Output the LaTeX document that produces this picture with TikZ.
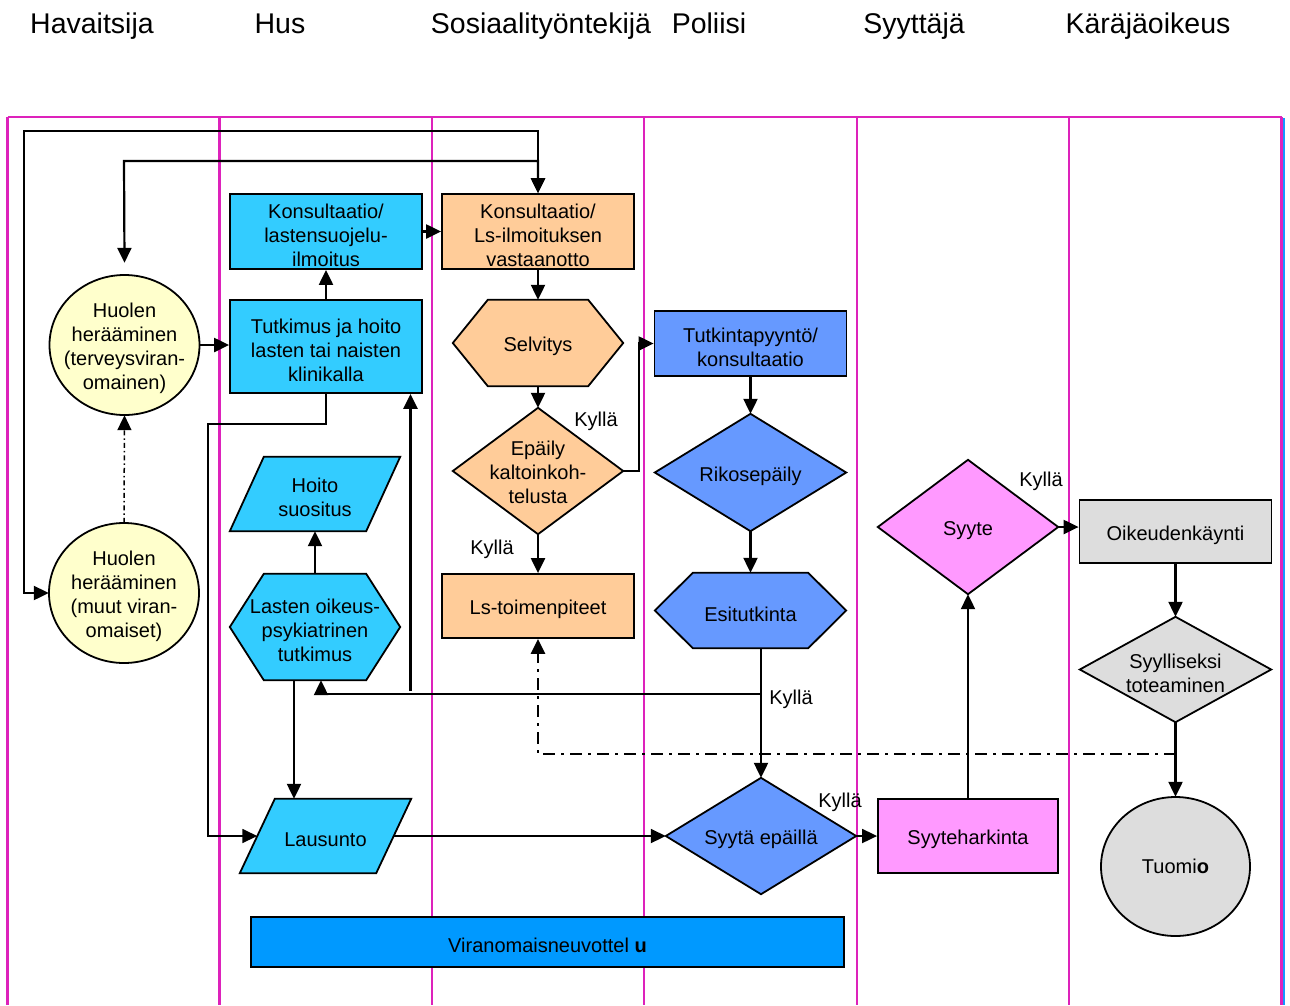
\documentclass[tikz,border=0pt]{standalone}
\usepackage{fontspec}
\setmainfont{Liberation Sans}
\usetikzlibrary{arrows.meta}
\pgfdeclarelayer{lanes}
\pgfdeclarelayer{shapes}
\pgfsetlayers{lanes,shapes,main}
\definecolor{lanec}{RGB}{221,34,187}
\definecolor{edgeblue}{RGB}{20,150,255}
\definecolor{cyanf}{HTML}{33CCFF}
\definecolor{orangef}{HTML}{FFCC99}
\definecolor{yellowf}{HTML}{FFFFCC}
\definecolor{bluef}{HTML}{6699FF}
\definecolor{pinkf}{HTML}{FF99FF}
\definecolor{greyf}{HTML}{DDDDDD}
\definecolor{virf}{HTML}{0099FF}
\newcommand\fst{\rule{0pt}{22pt}}
\tikzset{
  shp/.style={draw=black, line width=1.8pt, line join=miter},
  txtbase/.style={inner sep=0pt, align=center, font=\fontsize{20}{24}\selectfont},
  txt/.style={txtbase, execute at begin node={\fst}},
  rbox/.style={txt, shp},
  hdr/.style={inner sep=0pt, anchor=base, font=\fontsize{28.5}{32}\selectfont},
  lbl/.style={inner sep=0pt, font=\fontsize{20}{24}\selectfont},
  lanel/.style={draw=lanec, line width=2.2pt},
  conn/.style={draw=black, line width=2.2pt},
  arr/.style={conn, -{Triangle[length=15pt,width=14pt]}},
  arrboth/.style={conn, {Triangle[length=15pt,width=14pt]}-{Triangle[length=15pt,width=14pt]}},
  dd/.style={dash pattern=on 5pt off 3pt on 1.5pt off 3pt},
  ddthick/.style={line width=2.8pt, dash pattern=on 12pt off 6pt on 3pt off 6pt}
}
\newcommand\shpdiam[2]{\begin{pgfonlayer}{shapes}\draw[shp,fill=#2] (#1.north)--(#1.east)--(#1.south)--(#1.west)--cycle;\end{pgfonlayer}}
\newcommand\shphex[3]{\begin{pgfonlayer}{shapes}\draw[shp,fill=#3] (#1.west)--([xshift=#2pt]#1.north west)--([xshift=-#2pt]#1.north east)--(#1.east)--([xshift=-#2pt]#1.south east)--([xshift=#2pt]#1.south west)--cycle;\end{pgfonlayer}}
\newcommand\shppara[3]{\begin{pgfonlayer}{shapes}\draw[shp,fill=#3] (#1.south west)--([xshift=#2pt]#1.north west)--(#1.north east)--([xshift=-#2pt]#1.south east)--cycle;\end{pgfonlayer}}
\newcommand\shpell[4]{\begin{pgfonlayer}{shapes}\draw[shp,fill=#4] (#1.center) ellipse [x radius=#2pt, y radius=#3pt];\end{pgfonlayer}}
\begin{document}
\begin{tikzpicture}[x=1pt,y=-1pt]
\useasboundingbox (0,0) rectangle (1290,1005);
% lanes
\begin{pgfonlayer}{lanes}
\draw[lanel] (7.5,117) -- (1282,117);
\foreach \xx in {7.5,219.5,432,644,857,1069,1281.5}{\draw[lanel] (\xx,117) -- (\xx,1005);}
\draw[draw=edgeblue, line width=1.4pt] (1283.8,118) -- (1283.8,1005);
\end{pgfonlayer}
% headers
\node[hdr] (hd1) at (92,33) {Havaitsija};
\node[hdr] (hd2) at (280,33) {Hus};
\node[hdr] (hd3) at (541,33) {Sosiaalityöntekijä};
\node[hdr] (hd4) at (709,33) {Poliisi};
\node[hdr] (hd5) at (914,33) {Syyttäjä};
\node[hdr] (hd6) at (1148,33) {Käräjäoikeus};
% nodes
\node[rbox, fill=cyanf, minimum width=192pt, minimum height=75pt] (k1) at (326,231.5) {\fst Konsultaatio/\\lastensuojelu-\\ilmoitus};
\node[rbox, fill=orangef, minimum width=192pt, minimum height=75pt] (k2) at (538,231.5) {\fst Konsultaatio/\\Ls-ilmoituksen\\vastaanotto};
\node[rbox, fill=cyanf, minimum width=192pt, minimum height=93pt] (tk) at (326,346.5) {\fst Tutkimus ja hoito\\lasten tai naisten\\klinikalla};
\node[txt, minimum width=150pt, minimum height=140pt] (h1) at (124.5,345) {\fst Huolen\\herääminen\\(terveysviran-\\omainen)};
\shpell{h1}{75}{70}{yellowf}
\node[txt, minimum width=150pt, minimum height=140pt] (h2) at (124,593) {\fst Huolen\\herääminen\\(muut viran-\\omaiset)};
\shpell{h2}{75}{70}{yellowf}
\node[txt, minimum width=170pt, minimum height=86pt] (selv) at (538,343) {Selvitys};
\shphex{selv}{35}{orangef}
\node[txt, minimum width=170pt, minimum height=126pt] (epa) at (538,471) {\rule{0pt}{18pt}Epäily\\kaltoinkoh-\\telusta};
\shpdiam{epa}{orangef}
\node[rbox, fill=orangef, minimum width=192pt, minimum height=64pt] (lst) at (538,606) {Ls-toimenpiteet};
\node[rbox, fill=bluef, minimum width=192pt, minimum height=65pt] (tpk) at (750.5,343.5) {\fst Tutkintapyyntö/\\konsultaatio};
\node[txt, minimum width=191pt, minimum height=117pt] (rik) at (750.5,472.5) {Rikosepäily};
\shpdiam{rik}{bluef}
\node[txt, minimum width=191pt, minimum height=75pt] (esi) at (750.5,610.5) {Esitutkinta};
\shphex{esi}{38}{bluef}
\node[txt, minimum width=170pt, minimum height=74pt] (hoito) at (315,494) {\fst Hoito\\suositus};
\shppara{hoito}{34}{cyanf}
\node[txt, minimum width=170pt, minimum height=106pt] (lasten) at (315,627) {\fst Lasten oikeus-\\psykiatrinen\\tutkimus};
\shphex{lasten}{34}{cyanf}
\node[txt, minimum width=171pt, minimum height=74pt] (laus) at (325.5,836) {Lausunto};
\shppara{laus}{35}{cyanf}
\node[txt, minimum width=180pt, minimum height=134pt] (syte) at (968,527) {Syyte};
\shpdiam{syte}{pinkf}
\node[rbox, fill=greyf, minimum width=192pt, minimum height=63pt] (oik) at (1175.5,531.5) {Oikeudenkäynti};
\node[txt, minimum width=191pt, minimum height=105pt] (syyl) at (1175.5,669.5) {\fst Syylliseksi\\toteaminen};
\shpdiam{syyl}{greyf}
\node[txtbase, minimum width=149pt, minimum height=139pt] (tuo) at (1175.5,866.5) {Tuomi\textbf{o}};
\shpell{tuo}{74.5}{69.5}{greyf}
\node[txt, minimum width=190pt, minimum height=116pt] (syep) at (761,836) {Syytä epäillä};
\shpdiam{syep}{bluef}
\node[rbox, fill=pinkf, minimum width=180pt, minimum height=74pt] (syha) at (968,836) {Syyteharkinta};
\node[rbox, fill=virf, minimum width=593pt, minimum height=50pt] (vir) at (547.5,942) {Viranomaisneuvottel \textbf{u}};
% labels
\node[lbl] (ky1) at (596,421) {Kyllä};
\node[lbl] (ky2) at (492,549) {Kyllä};
\node[lbl] (ky3) at (791,699) {Kyllä};
\node[lbl] (ky4) at (840,802) {Kyllä};
\node[lbl] (ky5) at (1041,481) {Kyllä};
% coordinates
\coordinate (c1) at (24,131);
\coordinate (c2) at (124,161);
\coordinate (j1) at (761,694);
\coordinate (j2) at (410.5,691);
\coordinate (j3) at (208,424);
\coordinate (j4) at (1175.5,754);
\coordinate (j5) at (639,471);
% connectors
\draw[arrboth] (h2.west) -| (c1) -| (k2.north);
\draw[arrboth] ([yshift=12pt]h1.north) -- (c2) -| (k2.north);
\draw[arr] (h1.east) -- (h1.east -| tk.west);
\draw[arr] (tk.north) -- (k1.south);
\draw[arr] (k1.east) -- (k2.west);
\draw[arr] (k2.south) -- (selv.north);
\draw[arr] (selv.south) -- (epa.north);
\draw[arr] (epa.south) -- (lst.north);
\draw[arr] (epa.east) -- (j5) |- (tpk.west);
\draw[arr] (tpk.south) -- (rik.north);
\draw[arr] (rik.south) -- (esi.north);
\draw[arr] (esi.south -| syep.north) -- (syep.north);
\draw[arr] (j1) -| ([xshift=6pt]lasten.south);
\draw[arr, line width=2.6pt] (j2) -- (j2 |- tk.south);
\draw[arr, line width=1.7pt] (tk.south) |- (j3) |- ([xshift=17.5pt]laus.west);
\draw[arr] ([xshift=-21pt]lasten.south) -- ([xshift=-21pt]lasten.south |- laus.north);
\draw[arr] (lasten.north) -- (hoito.south);
\draw[arr, line width=1.5pt, dd] (h2.north) -- (h1.south);
\draw[arr, line width=1.8pt] ([xshift=-17.5pt]laus.east) -- (syep.west);
\draw[arr, line width=1.8pt] (syep.east) -- (syha.west);
\draw[arr] (syha.north) -- (syte.south);
\draw[arr] (syte.east) -- (syte.east -| oik.west);
\draw[arr] (oik.south) -- (syyl.north);
\draw[arr] (syyl.south) -- (tuo.north);
\draw[arr, ddthick] (j4) -| (lst.south);
\end{tikzpicture}
\end{document}
